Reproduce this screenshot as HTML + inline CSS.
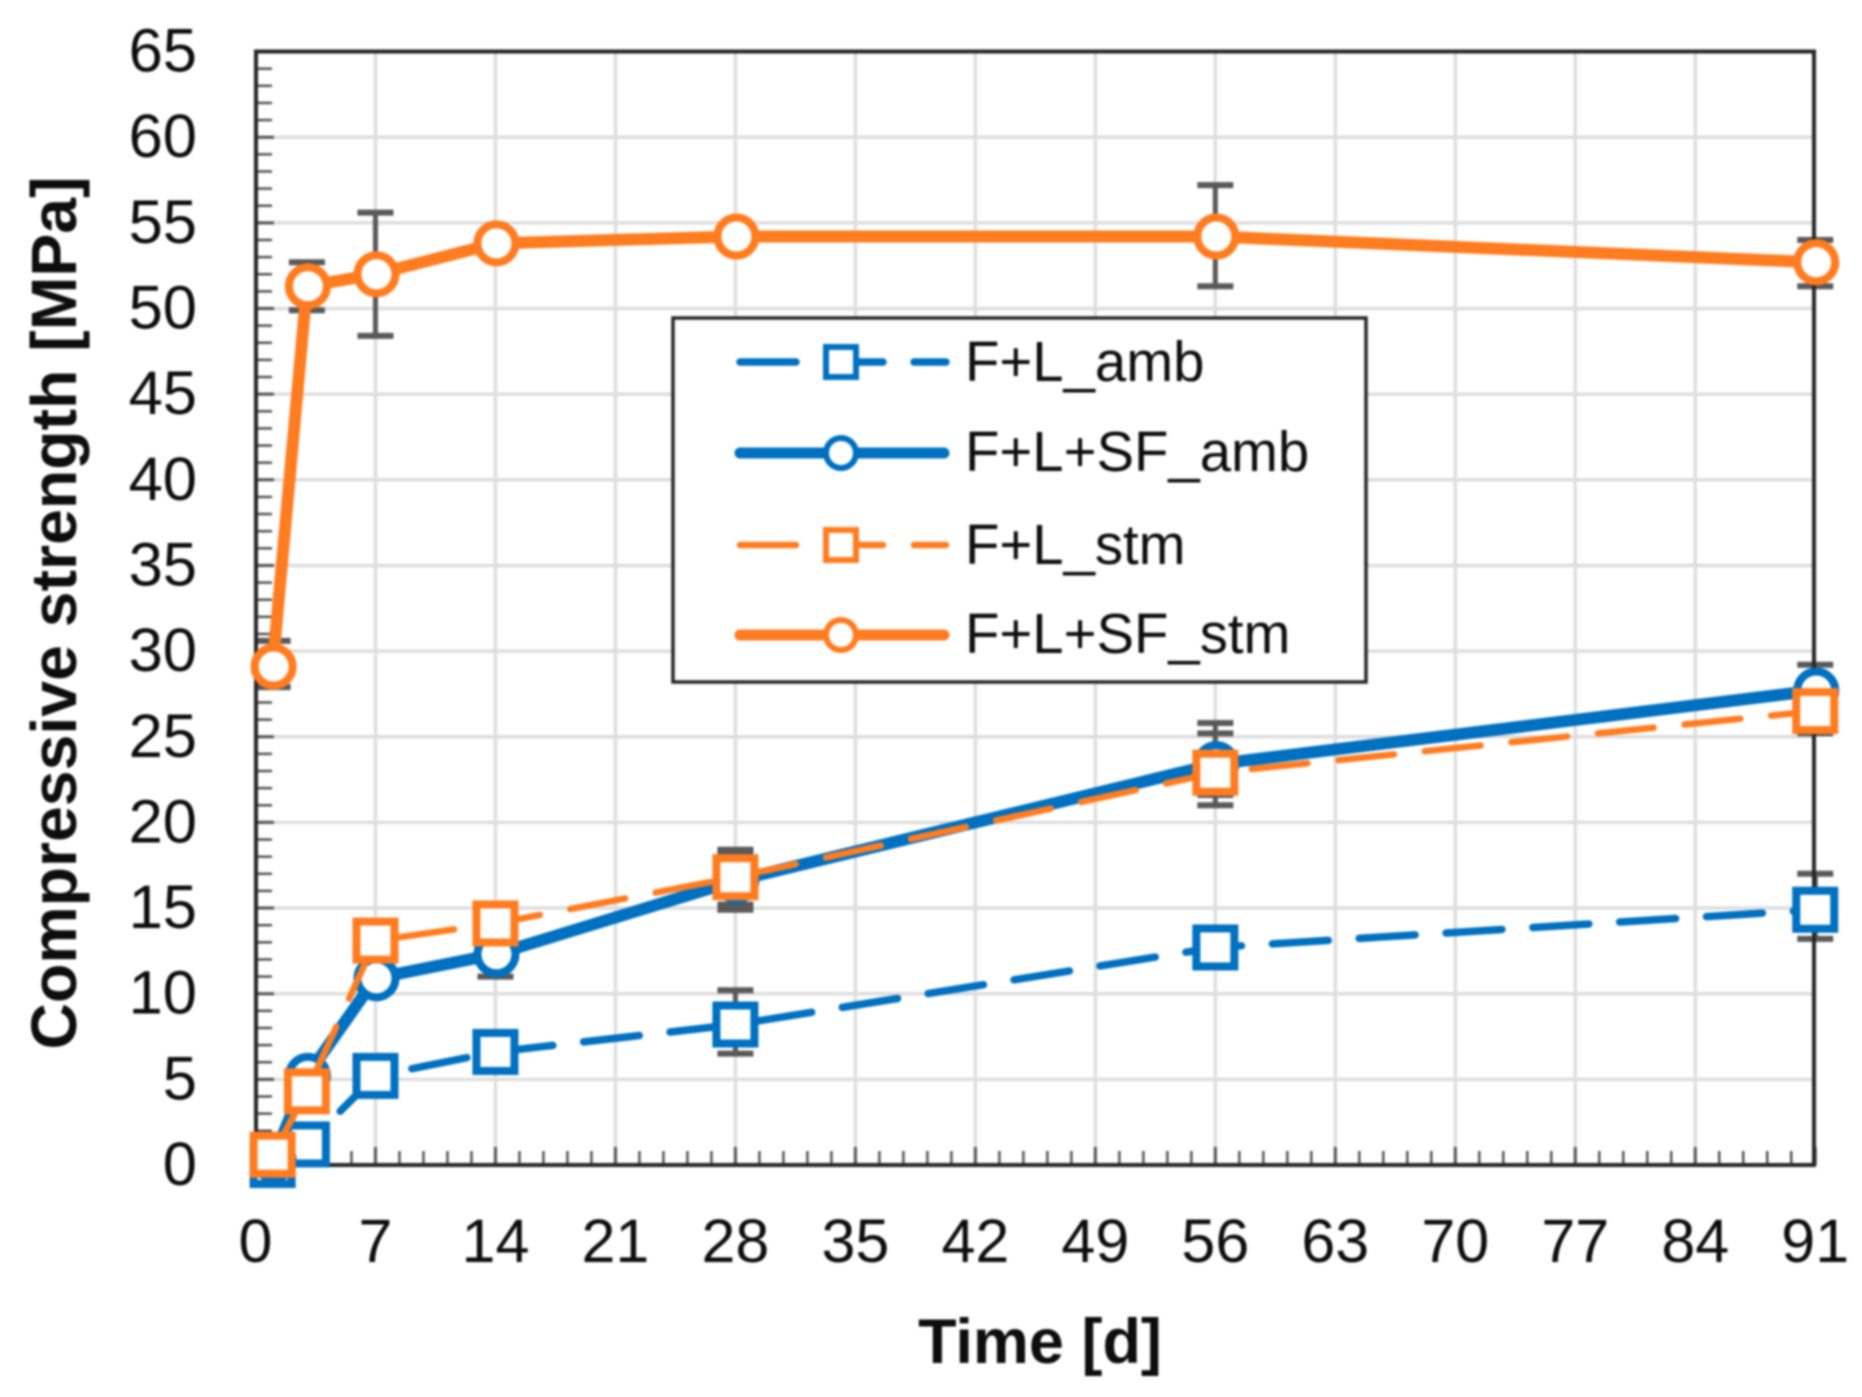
<!DOCTYPE html>
<html lang="en">
<head>
<meta charset="utf-8">
<title>Compressive strength over time</title>
<style>
html,body{margin:0;padding:0;background:#fff;width:1862px;height:1397px;overflow:hidden}
svg{display:block;filter:blur(1px)}
text{font-family:"Liberation Sans",Arial,sans-serif;fill:#0d0d0d}
</style>
</head>
<body>
<svg id="chart" xmlns="http://www.w3.org/2000/svg" width="1862" height="1397" viewBox="0 0 1862 1397">
  <g id="grid"></g>
  <g id="ticks"></g>
  <g id="errors"></g>
  <g id="series"></g>
  <rect x="256" y="51.5" width="1558" height="1113.5" fill="none" stroke="#262626" stroke-width="4"></rect>
  <g id="overlay"></g>
  <g id="xlabels" font-size="61" text-anchor="middle"></g>
  <g id="ylabels" font-size="61.5" text-anchor="end"></g>
  <text x="1040" y="1363" font-size="63" font-weight="700" text-anchor="middle">Time [d]</text>
  <text transform="translate(76,613) rotate(-90)" font-size="64.4" font-weight="700" text-anchor="middle">Compressive strength [MPa]</text>
  <g>
    <rect x="673" y="318" width="693" height="364" fill="#fff" stroke="#262626" stroke-width="3.5"></rect>
    <g>
      <line x1="740" y1="362" x2="946" y2="362" stroke="#0070C0" stroke-width="7.5" stroke-linecap="round" stroke-dasharray="56 31"></line>
      <rect x="826" y="347" width="30" height="30" fill="#fff" stroke="#0070C0" stroke-width="6"></rect>
      <text x="965" y="381" font-size="56.3">F+L_amb</text>
    </g>
    <g>
      <line x1="740" y1="453" x2="944" y2="453" stroke="#0070C0" stroke-width="11" stroke-linecap="round"></line>
      <circle cx="841" cy="453" r="15" fill="#fff" stroke="#0070C0" stroke-width="6"></circle>
      <text x="965" y="471" font-size="56.3">F+L+SF_amb</text>
    </g>
    <g>
      <line x1="740" y1="545" x2="946" y2="545" stroke="#FF7C20" stroke-width="6.5" stroke-linecap="round" stroke-dasharray="56 31"></line>
      <rect x="826" y="530" width="30" height="30" fill="#fff" stroke="#FF7C20" stroke-width="6"></rect>
      <text x="965" y="564" font-size="56.3">F+L_stm</text>
    </g>
    <g>
      <line x1="740" y1="635" x2="944" y2="635" stroke="#FF7C20" stroke-width="11" stroke-linecap="round"></line>
      <circle cx="841" cy="635" r="15" fill="#fff" stroke="#FF7C20" stroke-width="6"></circle>
      <text x="965" y="653" font-size="56.3">F+L+SF_stm</text>
    </g>
  </g>
</svg>
<script>
const days = [1, 3, 7, 14, 28, 56, 91];
const xTickLabels = [0, 7, 14, 21, 28, 35, 42, 49, 56, 63, 70, 77, 84, 91];
const yTickLabels = [0, 5, 10, 15, 20, 25, 30, 35, 40, 45, 50, 55, 60, 65];

const flAmb = [0, 1.2, 5.2, 6.6, 8.2, 12.7, 14.9];
const flSfAmb = [0.3, 5.2, 10.9, 12.3, 16.6, 23.4, 27.7];
const flStm = [0.6, 4.3, 13.1, 14.1, 16.8, 22.9, 26.5];
const flSfStm = [29.1, 51.3, 52.0, 53.8, 54.2, 54.2, 52.7];

const flAmbLow = [0, 1.0, 4.9, 6.2, 6.5, 11.6, 13.2];
const flAmbHigh = [0, 1.4, 5.5, 7.0, 10.2, 13.8, 17.0];
const flSfAmbLow = [0.3, 5.0, 10.5, 11.0, 14.9, 21.6, 25.6];
const flSfAmbHigh = [0.3, 5.4, 11.3, 13.6, 18.3, 25.2, 29.2];
const flStmLow = [0.6, 4.1, 12.8, 13.6, 15.2, 21.0, 25.2];
const flStmHigh = [0.6, 4.5, 13.4, 14.6, 18.4, 25.8, 27.8];
const flSfStmLow = [27.9, 49.9, 48.4, 53.6, 54.0, 51.3, 51.3];
const flSfStmHigh = [30.6, 52.7, 55.6, 54.0, 54.4, 57.2, 54.0];

const NS = 'http://www.w3.org/2000/svg';
const xScale = d => 255.5 + d * 17.14;
const yScale = v => 1165 - v * 17.13;
const gridG = document.getElementById('grid');
const ticksG = document.getElementById('ticks');
const errorsG = document.getElementById('errors');
const seriesG = document.getElementById('series');
const overlayG = document.getElementById('overlay');
const xLabelsG = document.getElementById('xlabels');
const yLabelsG = document.getElementById('ylabels');

function mkLine(parent, x1, y1, x2, y2, color, width) {
  const l = document.createElementNS(NS, 'line');
  l.setAttribute('x1', x1);
  l.setAttribute('y1', y1);
  l.setAttribute('x2', x2);
  l.setAttribute('y2', y2);
  l.setAttribute('stroke', color);
  l.setAttribute('stroke-width', width);
  parent.appendChild(l);
  return l;
}

xTickLabels.forEach((t, i) => {
  const x = xScale(t);
  if (i > 0 && i < xTickLabels.length - 1) {
    const g = mkLine(gridG, x, 51, x, 1165, '#dedede', 3.5);
    
    
  }
  const tk = mkLine(ticksG, x, 1165, x, 1147, '#555', 3);
  
  
  if (i < xTickLabels.length - 1) {
    const step = (xTickLabels[i + 1] - t) / 5;
    for (let k = 1; k < 5; k++) {
      const mx = xScale(t + k * step);
      const m = mkLine(ticksG, mx, 1165, mx, 1151, '#555', 2.5);
      
      
    }
  }
  const lbl = document.createElementNS(NS, 'text');
  lbl.setAttribute('x', x);
  lbl.setAttribute('y', 1262);
  lbl.textContent = t;
  
  
  xLabelsG.appendChild(lbl);
});

yTickLabels.forEach((t, i) => {
  const y = yScale(t);
  if (i > 0 && i < yTickLabels.length - 1) {
    const g = mkLine(gridG, 256, y, 1814, y, '#dedede', 3.5);
    
    
  }
  const tk = mkLine(ticksG, 256, y, 274, y, '#555', 3);
  
  
  if (i < yTickLabels.length - 1) {
    const step = (yTickLabels[i + 1] - t) / 5;
    for (let k = 1; k < 5; k++) {
      const my = yScale(t + k * step);
      const m = mkLine(ticksG, 256, my, 272, my, '#555', 2.5);
      
      
    }
  }
  const lbl = document.createElementNS(NS, 'text');
  lbl.setAttribute('x', 197);
  lbl.setAttribute('y', y + 20);
  lbl.textContent = t;
  
  
  yLabelsG.appendChild(lbl);
});

function drawErrors(low, high) {
  days.forEach((d, i) => {
    if (high[i] - low[i] < 0.5) return;
    const x = xScale(d);
    const a = mkLine(errorsG, x, yScale(low[i]), x, yScale(high[i]), '#595959', 5);
    
    
    const b = mkLine(errorsG, x - 18, yScale(low[i]), x + 18, yScale(low[i]), '#595959', 6);
    
    
    const c = mkLine(errorsG, x - 18, yScale(high[i]), x + 18, yScale(high[i]), '#595959', 6);
    
    
  });
}
drawErrors(flAmbLow, flAmbHigh);
drawErrors(flSfAmbLow, flSfAmbHigh);
drawErrors(flStmLow, flStmHigh);
drawErrors(flSfStmLow, flSfStmHigh);

function drawSeries(values, color, lineWidth, dash, shape, name) {
  const p = document.createElementNS(NS, 'polyline');
  p.setAttribute('points', days.map((d, i) => xScale(d) + ',' + yScale(values[i])).join(' '));
  p.setAttribute('fill', 'none');
  p.setAttribute('stroke', color);
  p.setAttribute('stroke-width', lineWidth);
  p.setAttribute('stroke-linejoin', 'round');
  p.setAttribute('stroke-linecap', 'round');
  if (dash) p.setAttribute('stroke-dasharray', dash);
  
  
  overlayG.appendChild(p);
  days.forEach((d, i) => {
    const cx = xScale(d);
    const cy = yScale(values[i]);
    let m;
    if (shape === 'square') {
      m = document.createElementNS(NS, 'rect');
      m.setAttribute('x', cx - 19);
      m.setAttribute('y', cy - 19);
      m.setAttribute('width', 38);
      m.setAttribute('height', 38);
    } else {
      m = document.createElementNS(NS, 'circle');
      m.setAttribute('cx', cx + 1);
      m.setAttribute('cy', cy);
      m.setAttribute('r', 19);
    }
    m.setAttribute('fill', '#fff');
    m.setAttribute('stroke', color);
    m.setAttribute('stroke-width', 8);
    
    
    overlayG.appendChild(m);
  });
}
drawSeries(flAmb, '#0070C0', 7.5, '56 31', 'square', 'f-l-amb');
drawSeries(flSfAmb, '#0070C0', 12, null, 'circle', 'f-l-sf-amb');
drawSeries(flStm, '#FF7C20', 6.5, '56 31', 'square', 'f-l-stm');
drawSeries(flSfStm, '#FF7C20', 12, null, 'circle', 'f-l-sf-stm');
</script>
</body>
</html>
